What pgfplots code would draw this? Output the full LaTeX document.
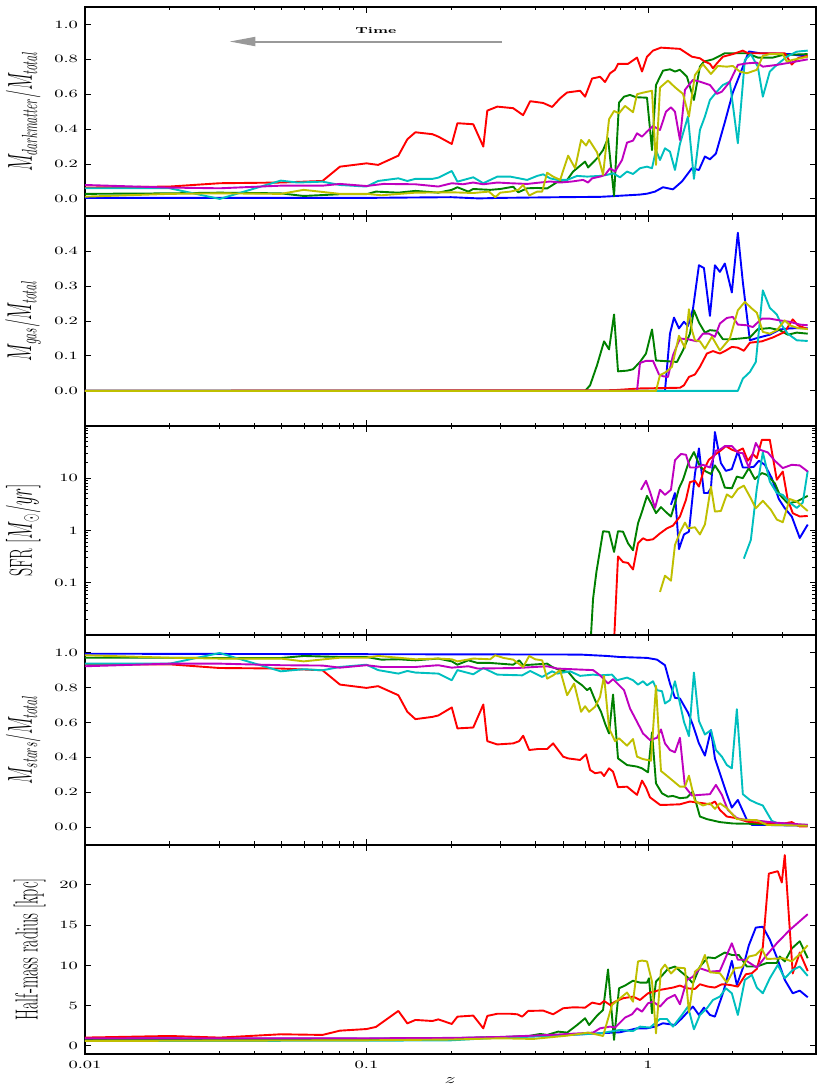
\documentclass[border=0pt]{standalone}
\usepackage{graphicx}
\usepackage{pgfplots}
\pgfplotsset{compat=1.18}
\usetikzlibrary{arrows.meta}
\definecolor{mb}{rgb}{0,0,1}
\definecolor{mg}{rgb}{0,0.5,0}
\definecolor{mr}{rgb}{1,0,0}
\definecolor{mc}{rgb}{0,0.75,0.75}
\definecolor{mm}{rgb}{0.75,0,0.75}
\definecolor{my}{rgb}{0.75,0.75,0}
\newcommand{\tl}[1]{\scalebox{1}[0.62]{#1}}
\newcommand{\yl}[1]{\scalebox{0.5}[1]{\fontsize{16}{18}\selectfont #1}}
\pgfplotsset{
    scale only axis, width=365.5pt, height=104.75pt,
    xmin=0.01, xmax=3.94,
    xtick={0.01,0.1,1},
    minor xtick={0.02,0.03,0.04,0.05,0.06,0.07,0.08,0.09,0.2,0.3,0.4,0.5,0.6,0.7,0.8,0.9,2,3},
    tick align=inside,
    major tick length=3pt, minor tick length=1.6pt,
    every tick/.append style={black, line width=0.5pt},
    axis line style={line width=1pt},
    every tick label/.append style={font=\fontsize{9}{10}\selectfont},
    every axis plot/.append style={line width=0.95pt, line join=round},
}
\begin{document}
\begin{tikzpicture}
% ---------------- Panel 1: dark matter fraction
\begin{semilogxaxis}[at={(0pt,419pt)}, anchor=south west, xticklabel=\empty,
  ymin=-0.1, ymax=1.1, ytick={0,0.2,0.4,0.6,0.8,1.0},
  yticklabel={\tl{$\pgfmathprintnumber[fixed,fixed zerofill,precision=1]{\tick}$}},
  ylabel={\yl{$M_{darkmatter}/M_{total}$}}]
\addplot[mb] coordinates {(0.01,0.006)(0.1,0.006)(0.2,0.01)(0.25,0.003)(0.2987,0.006)(0.4874,0.01)(0.6757,0.012)(0.7332,0.015)(0.9367,0.025)(0.9918,0.03)(1.0588,0.042)(1.1304,0.067)(1.2265,0.055)(1.32,0.10)(1.4324,0.176)(1.5168,0.166)(1.5927,0.243)(1.6596,0.227)(1.7429,0.26)(1.875,0.44)(2.0016,0.61)(2.2815,0.845)(2.4958,0.835)(3.188,0.83)(3.693,0.815)};
\addplot[mg] coordinates {(0.01,0.029)(0.02,0.032)(0.0301,0.036)(0.0496,0.032)(0.0598,0.017)(0.0805,0.027)(0.1,0.027)(0.108,0.042)(0.1298,0.036)(0.1492,0.046)(0.18,0.036)(0.2009,0.052)(0.2104,0.067)(0.23,0.042)(0.2395,0.057)(0.2752,0.052)(0.2987,0.057)(0.3321,0.07)(0.346,0.038)(0.3723,0.061)(0.4041,0.063)(0.4383,0.06)(0.4795,0.10)(0.5161,0.109)(0.542,0.157)(0.5978,0.214)(0.6126,0.18)(0.6594,0.233)(0.6925,0.28)(0.7212,0.348)(0.7576,0.017)(0.7891,0.552)(0.822,0.586)(0.8632,0.596)(0.9066,0.583)(0.9918,0.58)(1.0333,0.28)(1.0675,0.653)(1.1304,0.735)(1.1968,0.743)(1.2467,0.73)(1.2986,0.74)(1.3751,0.70)(1.456,0.567)(1.5291,0.758)(1.58,0.787)(1.7009,0.80)(1.875,0.835)(2.2444,0.835)(2.4553,0.81)(2.7753,0.81)(3.0111,0.825)(3.693,0.83)};
\addplot[mr] coordinates {(0.01,0.065)(0.02,0.071)(0.0301,0.09)(0.0496,0.094)(0.0698,0.103)(0.0805,0.185)(0.1,0.204)(0.11,0.195)(0.1298,0.248)(0.1397,0.342)(0.1492,0.382)(0.1715,0.371)(0.18,0.357)(0.2009,0.315)(0.2104,0.434)(0.2395,0.428)(0.26,0.30)(0.2686,0.506)(0.2917,0.529)(0.332,0.52)(0.36,0.48)(0.3816,0.56)(0.4243,0.55)(0.4566,0.527)(0.4874,0.577)(0.5161,0.61)(0.5739,0.62)(0.5978,0.586)(0.633,0.69)(0.6757,0.70)(0.7038,0.67)(0.7332,0.72)(0.7637,0.74)(0.7826,0.774)(0.8493,0.774)(0.914,0.81)(0.9522,0.73)(0.9918,0.815)(1.0418,0.85)(1.112,0.867)(1.2986,0.86)(1.4324,0.815)(1.5291,0.806)(1.5927,0.787)(1.6596,0.774)(1.7009,0.749)(1.7572,0.777)(1.8451,0.815)(2.0016,0.83)(2.1719,0.85)(2.2627,0.835)(2.6428,0.835)(3.0608,0.835)(3.2406,0.77)(3.4037,0.806)(3.693,0.82)};
\addplot[mc] coordinates {(0.01,0.061)(0.02,0.061)(0.0301,0.0)(0.0496,0.105)(0.0569,0.094)(0.0698,0.099)(0.0805,0.08)(0.1,0.071)(0.11,0.103)(0.1298,0.118)(0.1397,0.103)(0.1492,0.115)(0.1715,0.115)(0.18,0.122)(0.2009,0.16)(0.2104,0.099)(0.2395,0.124)(0.26,0.09)(0.2917,0.128)(0.3241,0.128)(0.3723,0.109)(0.4041,0.132)(0.4243,0.141)(0.4492,0.118)(0.4756,0.109)(0.5161,0.109)(0.56,0.132)(0.6077,0.128)(0.6757,0.132)(0.7154,0.138)(0.7514,0.147)(0.7955,0.124)(0.8424,0.157)(0.8846,0.143)(0.9367,0.176)(0.9918,0.185)(1.0333,0.176)(1.0675,0.28)(1.103,0.223)(1.1489,0.29)(1.1968,0.271)(1.2467,0.166)(1.2986,0.315)(1.3864,0.472)(1.456,0.115)(1.5291,0.395)(1.5927,0.472)(1.6596,0.567)(1.7572,0.615)(1.8451,0.653)(1.9532,0.672)(2.085,0.319)(2.208,0.797)(2.3189,0.829)(2.4553,0.758)(2.5577,0.586)(2.7081,0.73)(2.8677,0.768)(3.1113,0.815)(3.3762,0.844)(3.693,0.85)};
\addplot[mm] coordinates {(0.01,0.08)(0.02,0.065)(0.0301,0.061)(0.0496,0.076)(0.0698,0.076)(0.0805,0.086)(0.1,0.074)(0.115,0.086)(0.1492,0.084)(0.18,0.071)(0.2009,0.09)(0.22,0.084)(0.2395,0.094)(0.26,0.084)(0.2917,0.094)(0.3241,0.09)(0.3723,0.086)(0.414,0.094)(0.4492,0.10)(0.4874,0.094)(0.5376,0.10)(0.5881,0.109)(0.6126,0.094)(0.633,0.118)(0.6757,0.128)(0.7038,0.138)(0.7332,0.176)(0.7637,0.157)(0.8086,0.223)(0.8424,0.323)(0.8846,0.334)(0.914,0.376)(0.9522,0.357)(0.9918,0.386)(1.0418,0.418)(1.103,0.395)(1.1583,0.50)(1.2066,0.525)(1.2467,0.50)(1.2986,0.338)(1.3528,0.625)(1.444,0.682)(1.5291,0.672)(1.6596,0.653)(1.7572,0.602)(1.8301,0.615)(1.9532,0.672)(2.085,0.768)(2.2444,0.777)(2.4353,0.781)(2.5577,0.758)(2.8677,0.768)(3.188,0.781)(3.693,0.80)};
\addplot[my] coordinates {(0.01,0.013)(0.02,0.029)(0.0301,0.032)(0.0496,0.029)(0.0598,0.052)(0.0805,0.029)(0.1,0.029)(0.113,0.021)(0.1492,0.036)(0.2009,0.038)(0.2395,0.034)(0.2724,0.042)(0.2867,0.01)(0.2987,0.036)(0.3241,0.042)(0.346,0.052)(0.3603,0.08)(0.3785,0.02)(0.4041,0.042)(0.4208,0.042)(0.4383,0.15)(0.4603,0.128)(0.4874,0.109)(0.5203,0.248)(0.5509,0.176)(0.5786,0.338)(0.6027,0.306)(0.6177,0.338)(0.6594,0.267)(0.6925,0.138)(0.7272,0.457)(0.7576,0.504)(0.7891,0.491)(0.8287,0.533)(0.8846,0.497)(0.914,0.60)(0.9599,0.609)(1.0333,0.62)(1.0675,0.195)(1.103,0.638)(1.1774,0.678)(1.2467,0.64)(1.3308,0.602)(1.3978,0.472)(1.4679,0.71)(1.567,0.772)(1.6732,0.716)(1.7716,0.762)(1.9059,0.758)(2.0016,0.762)(2.1193,0.73)(2.2444,0.72)(2.4353,0.74)(2.5577,0.82)(2.7081,0.83)(3.0111,0.83)(3.1113,0.787)(3.267,0.797)(3.693,0.815)};
\draw[black!40, line width=1pt, -{Triangle[length=13pt,width=4.5pt]}] (axis cs:0.303,0.902) -- (axis cs:0.0326,0.902);
\node[font=\fontsize{7}{8}\selectfont\bfseries] at (axis cs:0.108,0.965) {\tl{Time}};
\end{semilogxaxis}
% ---------------- Panel 2: gas fraction
\begin{semilogxaxis}[at={(0pt,314.25pt)}, anchor=south west, xticklabel=\empty,
  ymin=-0.1, ymax=0.5, ytick={0,0.1,0.2,0.3,0.4},
  yticklabel={\tl{$\pgfmathprintnumber[fixed,fixed zerofill,precision=1]{\tick}$}},
  ylabel={\yl{$M_{gas}/M_{total}$}}]
\addplot[mb] coordinates {(0.01,0)(1.1489,0)(1.1968,0.164)(1.237,0.21)(1.2882,0.179)(1.3418,0.198)(1.3864,0.186)(1.444,0.234)(1.5168,0.36)(1.58,0.352)(1.6596,0.215)(1.7287,0.36)(1.8004,0.341)(1.875,0.365)(1.9853,0.282)(2.085,0.453)(2.1719,0.312)(2.3,0.145)(2.4553,0.152)(2.7081,0.161)(2.9383,0.176)(3.188,0.179)(3.4594,0.18)(3.693,0.179)};
\addplot[mg] coordinates {(0.01,0)(0.5978,0)(0.6227,0.016)(0.6594,0.074)(0.6982,0.142)(0.7272,0.119)(0.7576,0.219)(0.7826,0.056)(0.8424,0.058)(0.8846,0.062)(0.9367,0.083)(0.9837,0.107)(1.0333,0.176)(1.0675,0.087)(1.1678,0.085)(1.2673,0.083)(1.3308,0.116)(1.4091,0.164)(1.456,0.231)(1.5168,0.196)(1.5927,0.167)(1.6596,0.174)(1.7572,0.172)(1.8451,0.148)(1.9853,0.148)(2.1193,0.15)(2.3,0.153)(2.4553,0.177)(2.7081,0.18)(2.9383,0.174)(3.1367,0.161)(3.3762,0.167)(3.693,0.164)};
\addplot[mr] coordinates {(0.01,0)(0.7514,0.002)(0.9367,0.007)(1.2986,0.009)(1.3418,0.016)(1.3978,0.04)(1.4679,0.047)(1.5291,0.069)(1.619,0.107)(1.7009,0.114)(1.8004,0.107)(1.875,0.114)(1.9853,0.126)(2.085,0.124)(2.1897,0.115)(2.3,0.138)(2.5369,0.142)(2.7753,0.153)(3.0608,0.169)(3.267,0.205)(3.4037,0.188)(3.693,0.177)};
\addplot[mc] coordinates {(0.01,0)(2.085,0)(2.1719,0.035)(2.3,0.054)(2.4154,0.083)(2.5577,0.288)(2.7081,0.238)(2.8677,0.219)(2.9867,0.188)(3.1367,0.164)(3.3762,0.145)(3.693,0.143)};
\addplot[mm] coordinates {(0.01,0)(0.914,0)(0.9367,0.08)(0.9837,0.086)(1.0418,0.086)(1.0941,0.047)(1.1304,0.042)(1.1774,0.04)(1.2265,0.102)(1.2986,0.15)(1.3864,0.148)(1.4921,0.142)(1.567,0.164)(1.6458,0.164)(1.7287,0.155)(1.8004,0.193)(1.9059,0.209)(2.0016,0.212)(2.085,0.19)(2.2444,0.188)(2.357,0.183)(2.5369,0.207)(2.7081,0.207)(2.9383,0.202)(3.188,0.198)(3.4594,0.19)(3.693,0.188)};
\addplot[my] coordinates {(0.01,0)(1.0675,0)(1.103,0.045)(1.1583,0.054)(1.2166,0.069)(1.2882,0.158)(1.3528,0.123)(1.3978,0.234)(1.4324,0.174)(1.4679,0.145)(1.5291,0.142)(1.5927,0.121)(1.687,0.155)(1.8004,0.116)(1.9532,0.15)(2.085,0.231)(2.208,0.255)(2.3379,0.236)(2.4353,0.224)(2.5577,0.169)(2.7081,0.164)(2.8677,0.174)(3.0608,0.202)(3.188,0.188)(3.4037,0.18)(3.693,0.177)};
\end{semilogxaxis}
% ---------------- Panel 3: SFR
\begin{loglogaxis}[at={(0pt,209.5pt)}, anchor=south west, xticklabel=\empty,
  ymin=0.01, ymax=100, ytick={0.1,1,10},
  yticklabels={\tl{0.1},\tl{1},\tl{10}},
  minor ytick={0.02,0.03,0.04,0.05,0.06,0.07,0.08,0.09,0.2,0.3,0.4,0.5,0.6,0.7,0.8,0.9,2,3,4,5,6,7,8,9,20,30,40,50,60,70,80,90},
  ylabel={\yl{SFR $[M_{\odot}/yr]$}}]
\addplot[mb] coordinates {(1.2066,3.1)(1.2467,5.2)(1.2882,0.44)(1.3418,0.84)(1.3978,0.95)(1.4679,12)(1.5168,37)(1.58,5.2)(1.6322,5.2)(1.6732,6.4)(1.7287,76)(1.8152,19.4)(1.8904,13.8)(1.9853,14.9)(2.085,32.4)(2.1719,16)(2.2815,16)(2.3766,16.5)(2.4756,21.5)(2.5999,18)(2.7527,10)(2.915,4)(3.0608,2.66)(3.2406,1.85)(3.4594,0.72)(3.693,1.3)};
\addplot[mg] coordinates {(0.6227,0.005)(0.6381,0.05)(0.656,0.163)(0.6925,0.97)(0.7272,0.94)(0.7576,0.39)(0.7826,0.97)(0.8152,0.95)(0.8493,0.57)(0.8846,0.42)(0.9215,1.37)(0.9522,2.3)(0.9918,4.6)(1.0333,3.08)(1.0675,2.15)(1.112,2.8)(1.1583,2.25)(1.2066,1.85)(1.2467,3.3)(1.2882,6.4)(1.3308,9.3)(1.3978,20.9)(1.456,31.5)(1.5291,16.8)(1.6058,13.4)(1.6732,12)(1.7287,17.5)(1.8004,12.5)(1.875,6.6)(1.9853,6.4)(2.0681,10.7)(2.1719,10)(2.2815,15.6)(2.3958,9.6)(2.5369,12.5)(2.6428,11.6)(2.8211,8)(2.9383,4.8)(3.1367,3.3)(3.3762,3.57)(3.693,4.6)};
\addplot[mr] coordinates {(0.755,0.005)(0.7826,0.32)(0.8152,0.25)(0.8493,0.24)(0.8846,0.18)(0.9215,0.57)(0.9599,0.71)(0.9918,0.65)(1.0418,0.68)(1.103,0.88)(1.1678,1.1)(1.2265,1.24)(1.2986,1.85)(1.3639,3.85)(1.4091,8.4)(1.4679,8.9)(1.5168,6.9)(1.58,14.5)(1.6458,22.5)(1.7287,28)(1.8152,34)(1.8904,41)(1.9853,35)(2.0681,32.4)(2.1719,37)(2.2627,21.5)(2.357,29)(2.4353,24.2)(2.5369,54)(2.7081,54)(2.8677,9.3)(3.0111,13.4)(3.1367,3.85)(3.267,2.15)(3.4594,1.85)(3.693,1.9)};
\addplot[mc] coordinates {(2.1897,0.29)(2.3189,0.66)(2.4353,6.4)(2.5577,31)(2.7081,8.6)(2.8677,5.2)(3.0111,4.8)(3.188,3.4)(3.3762,2.7)(3.5452,3.4)(3.693,13.8)};
\addplot[mm] coordinates {(0.9444,6.0)(0.9837,8.9)(1.0165,5.5)(1.0588,2.7)(1.103,6)(1.1489,4.8)(1.2066,6)(1.2467,22)(1.3093,29)(1.3639,28)(1.4091,16)(1.4921,16)(1.567,18)(1.6596,16)(1.7429,33.5)(1.8004,35)(1.875,41)(1.9853,41)(2.085,31)(2.1719,30)(2.2815,16)(2.4154,47)(2.4958,35)(2.6645,31)(2.8211,21.5)(3.0111,15.6)(3.2406,18)(3.4594,17.5)(3.693,13.4)};
\addplot[my] coordinates {(1.103,0.067)(1.1489,0.137)(1.2066,0.11)(1.2467,0.53)(1.2986,0.92)(1.3528,1.42)(1.3864,1.1)(1.4679,1.15)(1.5291,0.84)(1.5927,1.3)(1.6732,6.9)(1.7287,2.3)(1.8152,2.36)(1.9059,4.9)(1.9853,4.25)(2.085,6.2)(2.1897,7.2)(2.3,4.45)(2.4154,2.66)(2.5577,3.7)(2.7303,2.5)(2.8677,1.62)(3.0111,1.44)(3.188,4.0)(3.3762,3.57)(3.693,2.36)};
\end{loglogaxis}
% ---------------- Panel 4: stellar fraction
\begin{semilogxaxis}[at={(0pt,104.75pt)}, anchor=south west, xticklabel=\empty,
  ymin=-0.1, ymax=1.1, ytick={0,0.2,0.4,0.6,0.8,1.0},
  yticklabel={\tl{$\pgfmathprintnumber[fixed,fixed zerofill,precision=1]{\tick}$}},
  ylabel={\yl{$M_{stars}/M_{total}$}}]
\addplot[mb] coordinates {(0.01,0.994)(0.2537,0.99)(0.5739,0.989)(0.7154,0.981)(0.7955,0.975)(0.9918,0.97)(1.0763,0.96)(1.1489,0.928)(1.1968,0.823)(1.2467,0.741)(1.2986,0.737)(1.3864,0.657)(1.444,0.585)(1.5168,0.48)(1.5927,0.41)(1.6732,0.556)(1.7287,0.394)(1.8004,0.309)(1.9059,0.189)(1.9853,0.112)(2.085,0.156)(2.2444,0.042)(2.3379,0.013)(2.5577,0.013)(3.693,0.008)};
\addplot[mg] coordinates {(0.01,0.971)(0.02,0.971)(0.0301,0.969)(0.0496,0.969)(0.0598,0.981)(0.0805,0.975)(0.1,0.975)(0.113,0.96)(0.1298,0.962)(0.1492,0.956)(0.18,0.966)(0.2009,0.95)(0.2104,0.931)(0.2301,0.956)(0.2482,0.941)(0.2752,0.941)(0.3321,0.931)(0.3488,0.956)(0.3603,0.928)(0.4383,0.937)(0.4566,0.918)(0.4874,0.899)(0.5203,0.89)(0.5509,0.842)(0.5834,0.813)(0.6077,0.785)(0.6227,0.798)(0.6487,0.728)(0.6812,0.661)(0.7038,0.594)(0.7272,0.537)(0.7514,0.76)(0.7826,0.394)(0.8424,0.356)(0.914,0.347)(0.9522,0.337)(1.0,0.314)(1.0333,0.543)(1.0675,0.251)(1.1212,0.194)(1.1774,0.175)(1.2265,0.179)(1.2986,0.166)(1.3751,0.17)(1.444,0.204)(1.5291,0.061)(1.619,0.046)(1.8004,0.029)(2.0016,0.021)(3.693,0.013)};
\addplot[mr] coordinates {(0.01,0.933)(0.02,0.933)(0.0301,0.912)(0.0496,0.909)(0.0698,0.899)(0.0805,0.817)(0.1,0.798)(0.11,0.808)(0.1298,0.756)(0.1397,0.661)(0.1492,0.619)(0.1715,0.632)(0.18,0.64)(0.2009,0.686)(0.2104,0.566)(0.2395,0.571)(0.26,0.703)(0.2686,0.493)(0.2914,0.474)(0.3321,0.48)(0.3488,0.493)(0.3603,0.524)(0.3785,0.442)(0.4074,0.448)(0.4383,0.448)(0.4603,0.48)(0.4995,0.404)(0.5203,0.394)(0.5739,0.385)(0.6027,0.417)(0.6227,0.328)(0.6487,0.309)(0.6812,0.315)(0.6982,0.293)(0.7272,0.337)(0.7514,0.318)(0.7826,0.229)(0.8424,0.232)(0.914,0.185)(0.9522,0.267)(0.9837,0.227)(1.0165,0.171)(1.103,0.128)(1.1678,0.128)(1.2986,0.131)(1.4091,0.147)(1.567,0.137)(1.6596,0.131)(1.7287,0.147)(1.8004,0.099)(1.9059,0.061)(2.0681,0.051)(2.2444,0.032)(2.5577,0.023)(2.9383,0.017)(3.2406,0.029)(3.4594,0.004)(3.693,0.004)};
\addplot[mc] coordinates {(0.01,0.937)(0.02,0.937)(0.0301,0.998)(0.0496,0.893)(0.0598,0.905)(0.0698,0.899)(0.0805,0.918)(0.1,0.931)(0.11,0.90)(0.1298,0.88)(0.1397,0.895)(0.1492,0.886)(0.18,0.88)(0.2009,0.842)(0.2104,0.90)(0.2395,0.876)(0.26,0.912)(0.2914,0.874)(0.3574,0.87)(0.3816,0.895)(0.4208,0.861)(0.4566,0.893)(0.4756,0.88)(0.5289,0.893)(0.5739,0.867)(0.6381,0.874)(0.6757,0.87)(0.7453,0.874)(0.7763,0.842)(0.8424,0.857)(0.8846,0.842)(0.9215,0.817)(0.9599,0.836)(0.9918,0.813)(1.0418,0.836)(1.0763,0.785)(1.1212,0.779)(1.1489,0.709)(1.1968,0.728)(1.2467,0.836)(1.2986,0.709)(1.3418,0.604)(1.3978,0.522)(1.456,0.886)(1.5168,0.608)(1.5927,0.531)(1.6732,0.556)(1.7429,0.442)(1.8301,0.404)(1.9059,0.356)(1.9853,0.337)(2.0681,0.676)(2.1719,0.189)(2.3,0.156)(2.4353,0.137)(2.5577,0.124)(2.7527,0.036)(2.9383,0.017)(3.693,0.01)};
\addplot[mm] coordinates {(0.01,0.922)(0.02,0.937)(0.0301,0.937)(0.0496,0.928)(0.0698,0.926)(0.0805,0.914)(0.1,0.928)(0.113,0.918)(0.1492,0.918)(0.18,0.928)(0.2009,0.914)(0.2301,0.922)(0.2482,0.909)(0.3432,0.912)(0.4383,0.922)(0.4756,0.909)(0.5739,0.903)(0.6381,0.90)(0.6757,0.87)(0.7212,0.823)(0.7514,0.848)(0.822,0.785)(0.8632,0.68)(0.914,0.604)(0.9599,0.537)(1.0165,0.499)(1.0763,0.512)(1.112,0.56)(1.1489,0.48)(1.1968,0.442)(1.2467,0.429)(1.2986,0.512)(1.3528,0.232)(1.4324,0.181)(1.5291,0.185)(1.6596,0.189)(1.7429,0.242)(1.8301,0.185)(1.9215,0.099)(2.0681,0.051)(2.2444,0.04)(2.4353,0.038)(2.7753,0.027)(3.693,0.013)};
\addplot[my] coordinates {(0.01,0.985)(0.02,0.971)(0.0301,0.966)(0.0496,0.966)(0.0598,0.95)(0.0805,0.971)(0.1,0.971)(0.11,0.981)(0.1298,0.971)(0.1492,0.962)(0.18,0.966)(0.2009,0.962)(0.2104,0.95)(0.2395,0.966)(0.2752,0.962)(0.2867,0.985)(0.3061,0.97)(0.3321,0.96)(0.3603,0.918)(0.3785,0.981)(0.3975,0.962)(0.4208,0.956)(0.4383,0.851)(0.4603,0.87)(0.4874,0.899)(0.5161,0.756)(0.5465,0.823)(0.5786,0.661)(0.5978,0.693)(0.6177,0.661)(0.6487,0.69)(0.6757,0.747)(0.6982,0.867)(0.7272,0.566)(0.7637,0.493)(0.7891,0.509)(0.8424,0.467)(0.8846,0.505)(0.914,0.404)(0.9599,0.39)(1.0248,0.381)(1.0675,0.81)(1.112,0.322)(1.1968,0.28)(1.2986,0.232)(1.3528,0.232)(1.3978,0.295)(1.4679,0.15)(1.567,0.124)(1.6596,0.137)(1.7287,0.105)(1.8004,0.137)(1.9059,0.109)(2.0681,0.046)(2.2444,0.042)(2.4353,0.04)(2.6428,0.013)(3.693,0.008)};
\end{semilogxaxis}
% ---------------- Panel 5: half-mass radius
\begin{semilogxaxis}[at={(0pt,0pt)}, anchor=south west,
  ymin=-1, ymax=25, ytick={0,5,10,15,20},
  yticklabel={\tl{$\pgfmathprintnumber{\tick}$}},
  xticklabels={\tl{0.01},\tl{0.1},\tl{1}},
  xlabel={\tl{\fontsize{11}{12}\selectfont$z$}},
  xlabel style={at={(axis description cs:0.5,-0.125)}, anchor=center},
  ylabel={\yl{Half-mass radius [kpc]}}]
\addplot[mb] coordinates {(0.01,0.95)(0.1,0.9)(0.2,0.95)(0.2987,1.08)(0.5161,1.37)(0.6757,1.57)(0.7955,1.7)(0.914,2.19)(0.9918,2.19)(1.0588,2.4)(1.1304,2.82)(1.2467,2.6)(1.32,3.44)(1.3864,4.26)(1.444,4.89)(1.5168,3.85)(1.58,4.76)(1.6596,3.85)(1.7287,3.64)(1.8451,6.54)(1.9853,10.56)(2.0681,7.58)(2.1719,9.65)(2.2815,12.5)(2.4154,14.7)(2.5577,14.8)(2.7081,13.2)(2.8911,10.7)(3.0608,8.2)(3.267,6.54)(3.4594,6.87)(3.693,6.05)};
\addplot[mg] coordinates {(0.01,0.75)(0.05,0.8)(0.1,0.85)(0.2,0.95)(0.2987,1.1)(0.3723,1.2)(0.414,1.49)(0.4383,1.37)(0.4795,1.78)(0.5161,1.66)(0.56,2.6)(0.5978,3.44)(0.6177,2.6)(0.6594,3.77)(0.6925,4.47)(0.7212,9.5)(0.7576,0.75)(0.7891,7.16)(0.8287,7.5)(0.8846,8.1)(0.9367,7.87)(0.9918,7.87)(1.0082,8.4)(1.0333,4.06)(1.0675,8.0)(1.1212,8.74)(1.1774,9.57)(1.2467,9.86)(1.2986,9.32)(1.3751,8.6)(1.444,7.78)(1.5291,9.86)(1.6322,11.0)(1.7287,10.9)(1.875,11.6)(1.9853,11.3)(2.1021,11.3)(2.2444,9.86)(2.4353,9.86)(2.6428,10.3)(2.8677,10.3)(2.9383,11.1)(3.0608,10.5)(3.2406,12.1)(3.4594,13.0)(3.693,10.9)};
\addplot[mr] coordinates {(0.01,1.04)(0.02,1.24)(0.0301,1.04)(0.0496,1.45)(0.0698,1.37)(0.0805,1.9)(0.1,2.1)(0.108,2.36)(0.1298,4.35)(0.1397,2.8)(0.1492,3.23)(0.1715,3.1)(0.18,3.3)(0.2009,2.73)(0.2104,3.64)(0.2395,3.77)(0.26,2.19)(0.2686,3.73)(0.2917,4.0)(0.3241,4.0)(0.3432,3.93)(0.3574,3.64)(0.3754,4.35)(0.4243,4.39)(0.4603,3.93)(0.4995,4.68)(0.542,4.8)(0.5978,4.76)(0.633,5.38)(0.6757,5.18)(0.6982,5.59)(0.7332,5.09)(0.7637,5.5)(0.8152,5.92)(0.8846,6.13)(0.9367,5.71)(1.0,6.54)(1.103,6.96)(1.2265,7.25)(1.2986,7.5)(1.3751,7.16)(1.4679,7.08)(1.5291,7.66)(1.6322,7.37)(1.7287,7.25)(1.8301,7.66)(1.9532,7.58)(2.085,7.37)(2.2261,8.9)(2.3379,9.03)(2.4353,9.57)(2.5577,12.3)(2.6865,21.4)(2.8911,21.7)(2.9867,20.3)(3.0608,23.7)(3.267,9.0)(3.4594,11.6)(3.693,9.3)};
\addplot[mc] coordinates {(0.01,0.62)(0.1,0.65)(0.2,0.7)(0.2987,1.04)(0.3911,1.16)(0.5881,1.45)(0.6757,1.57)(0.7955,1.99)(0.8846,1.85)(0.9367,2.4)(1.0165,2.28)(1.103,3.35)(1.1678,3.35)(1.2265,2.4)(1.32,3.85)(1.3864,4.89)(1.456,2.07)(1.5291,3.85)(1.619,4.68)(1.7009,5.71)(1.8004,6.13)(1.8904,7.16)(1.9853,6.54)(2.085,3.85)(2.208,8.2)(2.3379,8.82)(2.4353,7.25)(2.5577,6.54)(2.7081,8.4)(2.8911,10.06)(3.0608,8.4)(3.267,9.44)(3.4594,9.86)(3.693,8.7)};
\addplot[mm] coordinates {(0.01,0.95)(0.1,0.95)(0.2,1.0)(0.2987,1.12)(0.4492,1.37)(0.6381,1.66)(0.6757,2.19)(0.7332,2.4)(0.7637,2.28)(0.8287,3.52)(0.8774,3.93)(0.914,4.68)(0.9522,4.26)(1.0,5.3)(1.0418,5.5)(1.103,4.89)(1.1678,5.84)(1.2467,6.34)(1.2986,5.18)(1.3751,8.2)(1.444,8.6)(1.5291,9.65)(1.6596,9.23)(1.8004,9.32)(1.9853,12.75)(2.085,10.7)(2.208,10.7)(2.4353,9.73)(2.6428,11.3)(2.8677,12.75)(3.188,14.4)(3.693,16.36)};
\addplot[my] coordinates {(0.01,0.62)(0.1,0.7)(0.2,0.8)(0.2987,0.95)(0.3911,0.87)(0.5161,1.28)(0.6126,1.66)(0.6925,1.24)(0.7453,5.09)(0.7955,5.92)(0.8424,6.63)(0.8846,5.5)(0.9215,10.5)(0.9522,10.6)(0.9918,10.5)(1.0333,8.0)(1.0675,1.57)(1.112,9.44)(1.1489,10.1)(1.2066,9.0)(1.2673,9.73)(1.3528,9.65)(1.3978,4.18)(1.4679,9.23)(1.5291,9.73)(1.5927,11.3)(1.6596,9.15)(1.8004,9.03)(1.9059,7.87)(2.0345,9.65)(2.1542,9.77)(2.2815,11.1)(2.4154,11.3)(2.5369,12.05)(2.6428,10.8)(2.8677,10.85)(3.0111,10.9)(3.2406,10.5)(3.4594,11.4)(3.693,12.5)};
\end{semilogxaxis}
\pgfresetboundingbox
\path (-42.5pt,-18pt) rectangle (373pt,527.25pt);
\end{tikzpicture}
\end{document}
